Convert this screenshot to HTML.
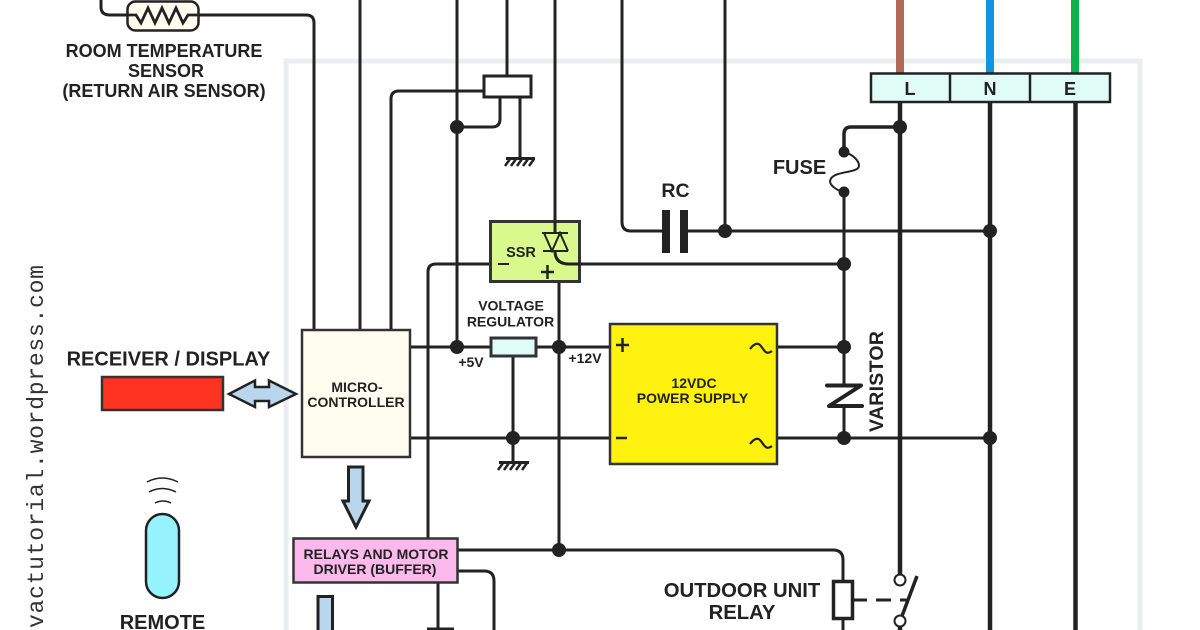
<!DOCTYPE html>
<html><head><meta charset="utf-8">
<style>
html,body{margin:0;padding:0;background:#fff;width:1200px;height:630px;overflow:hidden}
svg{display:block}
text{font-family:"Liberation Sans",sans-serif;font-weight:bold;fill:#222;text-anchor:middle}
</style></head><body>
<svg width="1200" height="630" viewBox="0 0 1200 630" xmlns="http://www.w3.org/2000/svg">
<rect x="286" y="61" width="854" height="600" fill="none" stroke="#e9eeee" stroke-width="5"/>
<text x="43" y="628" transform="rotate(-90 43 628)" style="font-family:'Liberation Mono',monospace;font-weight:normal;text-anchor:start;font-size:23px;fill:#333" textLength="363">vactutorial.wordpress.com</text>

<!-- coloured wires -->
<rect x="896" y="0" width="8" height="74" fill="#b06a58"/>
<rect x="986" y="0" width="8" height="74" fill="#0f96e0"/>
<rect x="1071" y="0" width="8" height="74" fill="#0db14b"/>

<g fill="none" stroke="#222" stroke-width="3">
<path d="M101 0V7Q101 15 110 15H127M199 15H306Q314 15 314 23V330"/>
<path d="M360 0V330M391 330V99Q391 91 399 91H484M457 0V347M507 0V76"/>
<path d="M500 97V119Q500 127 492 127H457M520 97V158"/>
<path d="M555 0V236"/>
<path d="M622 0V222Q622 231 631 231H662M688 231H990M725 0V231"/>
<path d="M428 538V272Q428 264 436 264H490"/>
<path d="M580 264H844"/>
<path d="M559 281V550"/>
<path d="M410 347H491M536 347H610M410 438H610M513 356V462"/>
<path d="M777 347H844M777 438H990"/>
<path d="M844 192V264M844 264V385M844 406V438"/>
<path d="M458 550H833Q843 550 843 560V581M843 619V630"/>
<path d="M458 571H484Q494 571 494 581V630M438 583V628"/>
<path d="M427 629H454"/>
</g>
<g fill="none" stroke="#222" stroke-width="4.5">
<path d="M900 102V575M990 102V630M1075.500 102V630M900 626V630"/>
</g>
<path d="M900 127H851Q844 127 844 134V152" fill="none" stroke="#222" stroke-width="3.500"/>
<path d="M844 152C852 154 859 160 859 166C858 174 832 170 830 181C830 186 838 191 844 192" fill="none" stroke="#222" stroke-width="2"/>

<!-- nodes -->
<g fill="#222">
<circle cx="457" cy="127" r="7"/><circle cx="725" cy="231" r="7"/><circle cx="990" cy="231" r="7"/>
<circle cx="844" cy="264" r="7"/><circle cx="457" cy="347" r="7"/><circle cx="559" cy="347" r="7"/>
<circle cx="513" cy="438" r="7"/><circle cx="844" cy="347" r="7"/><circle cx="844" cy="438" r="7"/>
<circle cx="990" cy="438" r="7"/><circle cx="900" cy="127" r="7"/><circle cx="559" cy="550" r="7"/>
<circle cx="844" cy="152" r="5.500"/><circle cx="844" cy="192" r="5.500"/>
</g>

<!-- thermistor -->
<rect x="127.500" y="1.500" width="71" height="29" rx="8" fill="#fffdf0" stroke="#222" stroke-width="2.500"/>
<path d="M127 15H136L141 23L148 8L155 23L162 8L169 23L176 8L183 23L188 15H199" fill="none" stroke="#222" stroke-width="2.800"/>
<text x="164" y="57" style="font-size:18px">ROOM TEMPERATURE</text>
<text x="166" y="77" style="font-size:18px">SENSOR</text>
<text x="164" y="97" style="font-size:18px">(RETURN AIR SENSOR)</text>

<!-- relay top -->
<rect x="484" y="76" width="47" height="21" fill="#fff" stroke="#222" stroke-width="3"/>
<!-- grounds -->
<g stroke="#222" fill="none">
<path d="M506 158.500H535" stroke-width="3"/>
<path d="M510 159L505 166M516 159L511 166M522 159L517 166M528 159L523 166M534 159L529 166" stroke-width="2.500"/>
<path d="M499 462.500H529" stroke-width="3"/>
<path d="M503 463L498 470M509 463L504 470M515 463L510 470M521 463L516 470M527 463L522 470" stroke-width="2.500"/>
</g>

<!-- SSR -->
<rect x="490.500" y="221.500" width="89" height="60" fill="#d9f98c" stroke="#333" stroke-width="3"/>
<path d="M555 221V233" stroke="#222" stroke-width="3"/>
<path d="M542 233H568M543 251H568M544 233L552 251L560 233M552 251L560 233L568 251" fill="none" stroke="#222" stroke-width="2"/>
<path d="M555 251Q555 264 569 264H580" fill="none" stroke="#222" stroke-width="3"/>
<text x="521" y="257" style="font-size:14.500px">SSR</text>
<path d="M498 264H509" stroke="#222" stroke-width="2"/>
<path d="M541 272H554M547.500 265V279" stroke="#222" stroke-width="2.500"/>

<!-- cap -->
<rect x="662" y="210" width="8" height="43" fill="#222"/>
<rect x="680" y="210" width="8" height="43" fill="#222"/>
<text x="675.500" y="197" style="font-size:19.500px">RC</text>

<text x="799.500" y="174" style="font-size:20px">FUSE</text>

<!-- terminal -->
<rect x="871" y="73.500" width="239" height="28.500" fill="#dffdf6" stroke="#222" stroke-width="2.500"/>
<path d="M950 73V102M1030 73V102" stroke="#222" stroke-width="2.500"/>
<text x="910" y="95" style="font-size:18px">L</text>
<text x="990" y="95" style="font-size:18px">N</text>
<text x="1070" y="95" style="font-size:18px">E</text>

<!-- micro -->
<rect x="302" y="330" width="108" height="127" fill="#fffdf0" stroke="#333" stroke-width="2.500"/>
<text x="357" y="392" style="font-size:14px">MICRO-</text>
<text x="356" y="407" style="font-size:14px">CONTROLLER</text>

<!-- regulator -->
<rect x="491" y="338" width="45" height="18" fill="#dffdf6" stroke="#333" stroke-width="3"/>
<text x="511" y="310.500" style="font-size:14px">VOLTAGE</text>
<text x="510.500" y="326.500" style="font-size:14px">REGULATOR</text>
<text x="471" y="367" style="font-size:14px">+5V</text>
<text x="585" y="363" style="font-size:14px">+12V</text>

<!-- PSU -->
<rect x="610" y="324" width="167" height="140" fill="#fff20e" stroke="#333" stroke-width="2.500"/>
<path d="M616 345H629M622.500 338V352" stroke="#222" stroke-width="2.500"/>
<path d="M616 438H627" stroke="#222" stroke-width="2.500"/>
<path d="M750 349C753 345 757 342 760 345C764 349 765 356 772 351" fill="none" stroke="#222" stroke-width="2.200"/>
<path d="M750 444C753 440 757 437 760 440C764 444 765 451 772 446" fill="none" stroke="#222" stroke-width="2.200"/>
<text x="694" y="388" style="font-size:14px">12VDC</text>
<text x="692.500" y="403" style="font-size:14px">POWER SUPPLY</text>

<!-- varistor -->
<path d="M827 385.500H861L829 406H862" fill="none" stroke="#222" stroke-width="4" stroke-linecap="round" stroke-linejoin="round"/>
<text transform="translate(883 432) rotate(-90)" style="font-size:19.500px;text-anchor:start" textLength="101">VARISTOR</text>

<!-- receiver -->
<text x="168.500" y="365.500" style="font-size:20px">RECEIVER / DISPLAY</text>
<rect x="102" y="377" width="121" height="33" fill="#ff3322" stroke="#333" stroke-width="2.500"/>
<path d="M229 394L255 380.500V387H269V380.500L296 394L269 407V401H255V407Z" fill="#b8d6ec" stroke="#222" stroke-width="2.500"/>

<!-- remote -->
<path d="M147 482Q162 474 178 482M149 492Q162 485 176 492M155 503Q163 499 171 503" fill="none" stroke="#222" stroke-width="1.500"/>
<rect x="146" y="514" width="33" height="84" rx="16.500" fill="#96f3fd" stroke="#222" stroke-width="2.500"/>
<text x="162.500" y="629" style="font-size:20px">REMOTE</text>

<!-- down arrow -->
<path d="M348.500 467H363V501H369L356 527L343 501H348.500Z" fill="#b8d6ec" stroke="#222" stroke-width="3"/>

<!-- relays box -->
<rect x="293.500" y="538.500" width="164" height="44" fill="#fdb9ec" stroke="#333" stroke-width="2.500"/>
<text x="376" y="559" style="font-size:14px">RELAYS AND MOTOR</text>
<text x="375" y="574" style="font-size:14px">DRIVER (BUFFER)</text>
<path d="M318 632V596.500H332.500V632" fill="#b8d6ec" stroke="#222" stroke-width="3"/>

<!-- outdoor relay -->
<text x="742" y="597" style="font-size:20.300px">OUTDOOR UNIT</text>
<text x="742" y="619" style="font-size:20.300px">RELAY</text>
<rect x="833.500" y="581.500" width="19" height="37" fill="#fff" stroke="#222" stroke-width="3.500"/>
<path d="M853 600H867M876 600H891M900 600H907" stroke="#222" stroke-width="3"/>
<path d="M917 576L902 616" stroke="#222" stroke-width="3.500"/>
<circle cx="900" cy="580" r="5.500" fill="#fff" stroke="#222" stroke-width="2"/>
<circle cx="900" cy="621" r="5.500" fill="#fff" stroke="#222" stroke-width="2"/>
</svg>
</body></html>
